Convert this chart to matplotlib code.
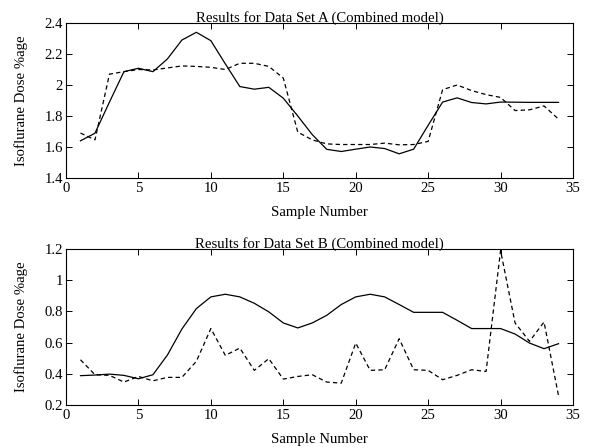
import matplotlib
matplotlib.use("Agg")
import matplotlib.pyplot as plt

samples = list(range(1, 35))

a_solid = [1.64, 1.689, 1.89, 2.086, 2.108, 2.086, 2.168, 2.29, 2.34, 2.286,
           2.136, 1.99, 1.973, 1.985, 1.915, 1.80, 1.68, 1.585, 1.571, 1.586,
           1.60, 1.59, 1.556, 1.586, 1.74, 1.89, 1.917, 1.887, 1.878, 1.89,
           1.889, 1.888, 1.888, 1.888]
a_dashed = [1.69, 1.646, 2.07, 2.086, 2.10, 2.097, 2.11, 2.123, 2.12, 2.114,
            2.10, 2.14, 2.14, 2.12, 2.045, 1.696, 1.646, 1.62, 1.616, 1.616,
            1.616, 1.625, 1.614, 1.616, 1.636, 1.97, 2.0, 1.964, 1.938, 1.92,
            1.835, 1.84, 1.865, 1.78]

b_solid = [0.388, 0.392, 0.398, 0.39, 0.368, 0.394, 0.52, 0.687, 0.818, 0.893,
           0.91, 0.893, 0.852, 0.797, 0.726, 0.694, 0.726, 0.775, 0.844, 0.893,
           0.91, 0.893, 0.844, 0.794, 0.794, 0.794, 0.743, 0.69, 0.69, 0.69,
           0.655, 0.597, 0.561, 0.593]
b_dashed = [0.49, 0.394, 0.39, 0.347, 0.383, 0.355, 0.377, 0.377, 0.48, 0.69,
            0.518, 0.565, 0.422, 0.497, 0.366, 0.383, 0.394, 0.347, 0.34, 0.597,
            0.422, 0.426, 0.625, 0.426, 0.422, 0.362, 0.39, 0.426, 0.415, 1.19,
            0.726, 0.608, 0.732, 0.26]

titles = ["Results for Data Set A (Combined model)",
          "Results for Data Set B (Combined model)"]
xlabel = "Sample Number"
ylabel = "Isoflurane Dose %age"
xticks = [0, 5, 10, 15, 20, 25, 30, 35]
yticks_a = [1.4, 1.6, 1.8, 2.0, 2.2, 2.4]
yticks_b = [0.2, 0.4, 0.6, 0.8, 1.0, 1.2]
ytl_a = ["1.4", "1.6", "1.8", "2", "2.2", "2.4"]
ytl_b = ["0.2", "0.4", "0.6", "0.8", "1", "1.2"]

plt.rcParams['font.family'] = ['Liberation Serif', 'DejaVu Serif']
FS = 10.6

fig = plt.figure(figsize=(6.01, 4.48), dpi=100)
ax1 = fig.add_axes([66/601, 1-178/448, 507/601, 155/448])
ax2 = fig.add_axes([66/601, 1-405/448, 507/601, 156/448])

for ax, s, d, t, yt, ytl, ylim, h in [
        (ax1, a_solid, a_dashed, titles[0], yticks_a, ytl_a, (1.4, 2.4), 155),
        (ax2, b_solid, b_dashed, titles[1], yticks_b, ytl_b, (0.2, 1.2), 156)]:
    ax.plot(samples, s, color='black', linestyle='-', linewidth=0.9)
    ax.plot(samples, d, color='black', linestyle=(0, (3.5, 2.5)), linewidth=0.9)
    ax.set_xlim(0, 35)
    ax.set_ylim(*ylim)
    ax.set_xticks(xticks)
    ax.set_yticks(yt)
    ax.set_yticklabels(ytl)
    ax.tick_params(direction='in', top=True, right=True, length=4, width=0.7,
                   labelsize=FS)
    ax.tick_params(axis='x', pad=3)
    ax.tick_params(axis='y', pad=2)
    for sp in ax.spines.values():
        sp.set_linewidth(0.8)
    ax.set_title(t, fontsize=FS, pad=1)
    ax.set_xlabel(xlabel, fontsize=FS)
    ax.set_ylabel(ylabel, fontsize=FS)
    ax.xaxis.set_label_coords(0.5, -28/h)
    ax.yaxis.set_label_coords(-38/507, 0.5)

fig.savefig("out.png", dpi=100)
